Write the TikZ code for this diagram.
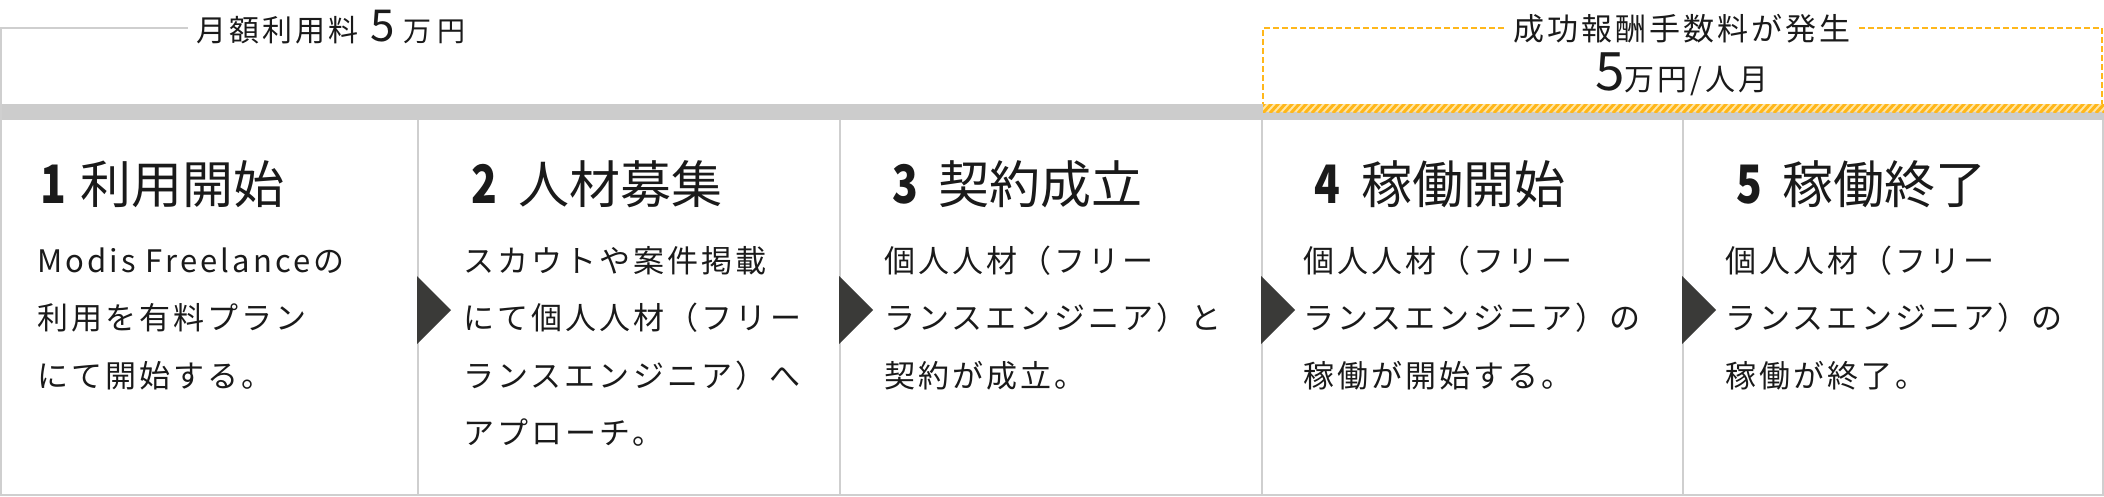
\documentclass[tikz,border=0pt]{standalone}
\usepackage{fontspec}
\usetikzlibrary{calc}
\setmainfont{Noto Sans CJK JP}
\newfontfamily\jpbody[LetterSpace=10]{Noto Sans CJK JP}
\newfontfamily\jptitle{Noto Sans CJK JP}
\newfontfamily\jpfee[LetterSpace=10]{Noto Sans CJK JP}
\newcommand\stepnum[1]{{\bfseries\fontsize{53}{53}\selectfont\addfontfeature{FakeStretch=0.8}#1}}
\definecolor{linegray}{HTML}{CFCFCF}
\definecolor{bargray}{HTML}{CCCCCC}
\definecolor{yellowc}{HTML}{FFB71B}
\definecolor{paley}{HTML}{FFE6A6}
\definecolor{arrowc}{HTML}{3A3A38}
\definecolor{textc}{HTML}{1A1A1A}
\begin{document}
\begin{tikzpicture}[x=1pt,y=-1pt,
  gridline/.style={draw=linegray, line width=2pt},
  feeline/.style={draw=yellowc, line width=2pt, dash pattern=on 6pt off 3pt},
  steptitle/.style={anchor=base west, inner sep=0pt, text=textc, font=\jptitle\fontsize{51}{51}\selectfont},
  stepbody/.style={anchor=base west, inner sep=0pt, text=textc, font=\jpbody\fontsize{31}{57.5}\selectfont},
  feelabel/.style={inner sep=0pt, text=textc},
  flowtri/.style={fill=arrowc}]
\useasboundingbox (0,0) rectangle (2104,496);
\fill[white] (0,0) rectangle (2104,496);

% gray bar
\fill[bargray] (0,104) rectangle (2104,120);

% column grid
\draw[gridline] (1,104) -- (1,495);
\foreach \cx in {418,840,1262,1683,2103} \draw[gridline] (\cx,120) -- (\cx,495);
\draw[gridline] (0,495) -- (2104,495);

% hatch stripe
\begin{scope}
\clip (1263,104) rectangle (2104,112);
\fill[paley] (1263,104) rectangle (2104,112);
\foreach \i in {0,...,125} \draw[yellowc, line width=3pt] ({1256+7*\i},113) -- ({1265+7*\i},103);
\end{scope}

% fee labels
\node[feelabel, anchor=base west, font=\jpfee\fontsize{30}{30}\selectfont] (fee1) at (196,41)
  {月額利用料\hspace{12pt}{\fontsize{44}{44}\selectfont 5}\hspace{9pt}{\fontsize{28}{28}\selectfont\addfontfeature{LetterSpace=20}万円}};
\node[feelabel, anchor=base, font=\jpfee\fontsize{31}{31}\selectfont] (fee2) at (1682,40)
  {成功報酬手数料が発生};
\node[feelabel, anchor=base, font=\jpfee\fontsize{30}{30}\selectfont] (fee3) at (1682,90)
  {{\fontsize{53}{53}\selectfont 5}万円/人月};

% bracket lines
\coordinate (tlc) at (1,28);
\coordinate (tlb) at (1,104);
\draw[gridline] (tlb) -- (tlc) -- ($(fee1.west |- tlc)+(-8,0)$);
\coordinate (yl) at (1263,28);
\coordinate (ylb) at (1263,104);
\coordinate (yr) at (2102,28);
\coordinate (yrb) at (2102,104);
\draw[feeline] ($(fee2.west |- yl)+(-9,0)$) -- (yl) -- (ylb);
\draw[feeline] ($(fee2.east |- yr)+(8,0)$) -- (yr) -- (yrb);

% flow triangles
\foreach \tx in {417,839,1261,1682}
  \fill[flowtri] (\tx,276) -- ({\tx+34},310) -- (\tx,344) -- cycle;

% titles
\node[steptitle] (t1) at (40,203) {\makebox[40pt][l]{\stepnum{1}}利用開始};
\node[steptitle] (t2) at (471,203) {\makebox[47pt][l]{\stepnum{2}}人材募集};
\node[steptitle] (t3) at (892,203) {\makebox[46pt][l]{\stepnum{3}}契約成立};
\node[steptitle] (t4) at (1314,203) {\makebox[47pt][l]{\stepnum{4}}稼働開始};
\node[steptitle] (t5) at (1736,203) {\makebox[46pt][l]{\stepnum{5}}稼働終了};

% bodies
\node[stepbody] (b1) at (37,272) {\parbox[t]{375pt}{\raggedright Modis Freelanceの\\利用を有料プラン\\にて開始する。}};
\node[stepbody] (b2) at (463,272) {\parbox[t]{375pt}{\raggedright スカウトや案件掲載\\にて個人人材（フリー\\ランスエンジニア）へ\\アプローチ。}};
\node[stepbody] (b3) at (884,272) {\parbox[t]{375pt}{\raggedright 個人人材（フリー\\ランスエンジニア）と\\契約が成立。}};
\node[stepbody] (b4) at (1303,272) {\parbox[t]{375pt}{\raggedright 個人人材（フリー\\ランスエンジニア）の\\稼働が開始する。}};
\node[stepbody] (b5) at (1725,272) {\parbox[t]{375pt}{\raggedright 個人人材（フリー\\ランスエンジニア）の\\稼働が終了。}};
\end{tikzpicture}
\end{document}
